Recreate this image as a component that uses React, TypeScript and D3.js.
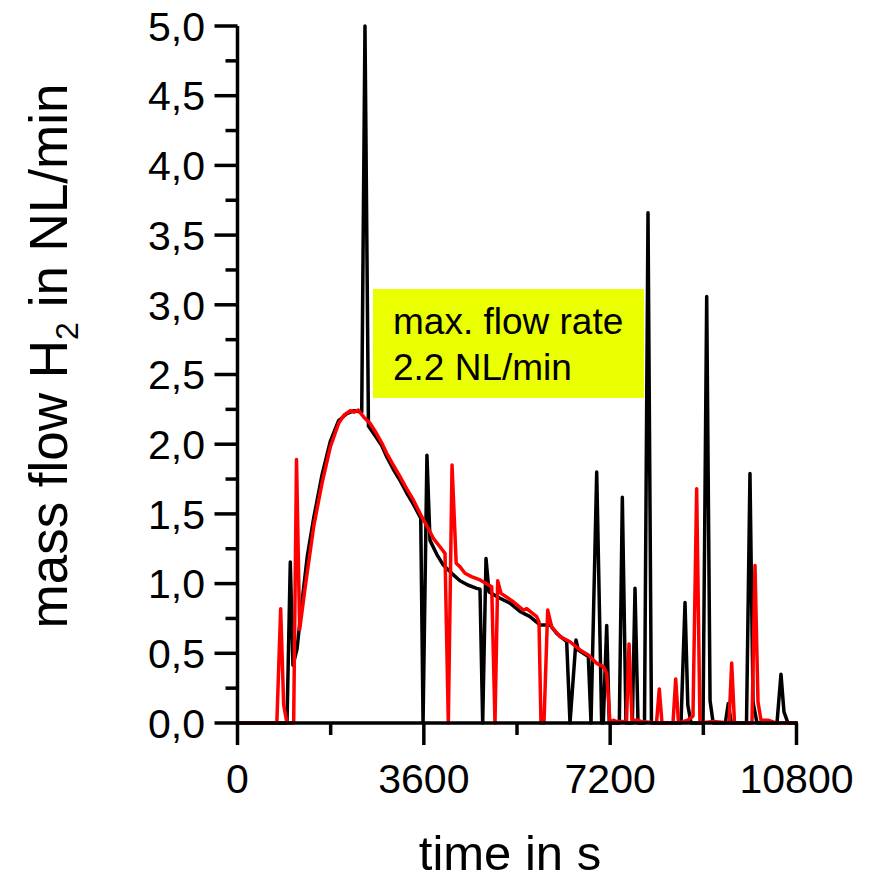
import React from "react";
import * as d3 from "d3";

// ---- data (time in s, mass flow H2 in NL/min) ----
const blackTime = [0, 956, 1020, 1072, 1150, 1250, 1350, 1472, 1633, 1793, 1955, 2116, 2250, 2400, 2463, 2530, 2660, 2786, 2882, 3010, 3140, 3270, 3397, 3540, 3585, 3660, 3719, 3850, 3976, 4150, 4298, 4450, 4621, 4685, 4737, 4801, 4859, 5071, 5265, 5458, 5651, 5844, 6037, 6167, 6360, 6424, 6540, 6584, 6778, 6830, 6940, 7036, 7067, 7133, 7183, 7377, 7435, 7506, 7628, 7680, 7738, 7863, 7931, 7998, 8569, 8646, 8700, 8762, 8994, 9065, 9130, 9190, 9425, 9482, 9540, 9834, 9901, 9960, 10037, 10423, 10500, 10558, 10635, 10800];
const blackFlow = [0, 0, 1.155, 0.415, 0.53, 0.88, 1.2, 1.47, 1.78, 2.02, 2.17, 2.22, 2.24, 2.23, 5.0, 2.13, 2.06, 1.99, 1.91, 1.82, 1.74, 1.65, 1.57, 1.47, 0, 1.92, 1.31, 1.21, 1.133, 1.07, 1.02, 0.99, 0.966, 0.96, 0, 1.18, 0.94, 0.895, 0.86, 0.8, 0.763, 0.703, 0.703, 0.643, 0.583, 0, 0.595, 0.524, 0.476, 0, 1.8, 0, 0, 0.7, 0, 0, 1.62, 0, 0, 0.966, 0, 0, 3.66, 0, 0, 0.864, 0.13, 0, 0, 3.06, 0.16, 0, 0, 0.14, 0, 0, 1.79, 0.15, 0, 0, 0.35, 0.08, 0, 0];

const redTime = [0, 760, 834, 892, 956, 1085, 1140, 1201, 1310, 1472, 1633, 1793, 1955, 2060, 2180, 2250, 2334, 2450, 2560, 2680, 2786, 2882, 3010, 3140, 3270, 3397, 3559, 3680, 3783, 3900, 4009, 4073, 4145, 4225, 4300, 4395, 4520, 4685, 4911, 4975, 5027, 5091, 5329, 5522, 5587, 5780, 5825, 5863, 5921, 5993, 6070, 6231, 6424, 6617, 6778, 6940, 7067, 7133, 7197, 7260, 7326, 7450, 7515, 7564, 7622, 7740, 7800, 8095, 8149, 8201, 8414, 8466, 8520, 8700, 8800, 8871, 8935, 9200, 9496, 9548, 9602, 9940, 9998, 10056, 10114, 10250, 10400, 10800];
const redFlow = [0, 0, 0.82, 0.13, 0, 0, 1.89, 0.67, 0.98, 1.41, 1.72, 1.98, 2.15, 2.21, 2.24, 2.23, 2.245, 2.19, 2.15, 2.08, 2.01, 1.935, 1.85, 1.767, 1.68, 1.6, 1.48, 1.4, 1.325, 1.27, 1.217, 0, 1.85, 1.146, 1.12, 1.074, 1.05, 1.026, 0.978, 0, 1.02, 0.93, 0.87, 0.81, 0.82, 0.763, 0.727, 0, 0, 0.81, 0.69, 0.62, 0.583, 0.524, 0.488, 0.428, 0.404, 0.357, 0, 0.02, 0.01, 0.01, 0, 0.567, 0.02, 0.02, 0.01, 0, 0.244, 0, 0, 0.316, 0, 0.02, 0.05, 1.68, 0, 0.01, 0, 0.43, 0, 0, 1.13, 0.15, 0.02, 0.02, 0, 0];

const xTicks = [0, 3600, 7200, 10800];
const xMinorTicks = [1800, 5400, 9000];
const yTicks = [0, 0.5, 1.0, 1.5, 2.0, 2.5, 3.0, 3.5, 4.0, 4.5, 5.0];
const yTickLabels = ["0,0", "0,5", "1,0", "1,5", "2,0", "2,5", "3,0", "3,5", "4,0", "4,5", "5,0"];
const yMinorTicks = [0.25, 0.75, 1.25, 1.75, 2.25, 2.75, 3.25, 3.75, 4.25, 4.75];
const annotationLines = ["max. flow rate", "2.2 NL/min"];

const W = 871;
const H = 881;
const FONT = "'Liberation Sans', Arial, Helvetica, sans-serif";

export default function App() {
  const x = d3.scaleLinear().domain([0, 10800]).range([237.5, 796.5]);
  const y = d3.scaleLinear().domain([0, 5]).range([723, 26]);

  const line = d3
    .line<[number, number]>()
    .x((d) => x(d[0]))
    .y((d) => y(d[1]));

  const blackPts: [number, number][] = blackTime.map((t, i) => [t, blackFlow[i]]);
  const redPts: [number, number][] = redTime.map((t, i) => [t, redFlow[i]]);

  const x0 = x(0);
  const y0 = y(0);

  return (
    <svg
      width={W}
      height={H}
      style={{ position: "absolute", left: 0, top: 0, background: "#fff" }}
      fontFamily={FONT}
    >
      <rect x={0} y={0} width={W} height={H} fill="#fff" />

      {/* annotation box */}
      <rect x={373} y={289} width={271} height={109} fill="#EAFF00" />
      {annotationLines.map((s, i) => (
        <text key={s} x={393} y={334 + i * 46} fontSize={37} fill="#000">
          {s}
        </text>
      ))}

      {/* data lines */}
      <path d={line(blackPts) || ""} fill="none" stroke="#000" strokeWidth={3.5} strokeLinejoin="round" />
      <path d={line(redPts) || ""} fill="none" stroke="#ff0000" strokeWidth={3.5} strokeLinejoin="round" />

      {/* y axis */}
      <line x1={x0} x2={x0} y1={y(5)} y2={y0 + 1.5} stroke="#000" strokeWidth={3.5} />
      {yTicks.map((v, i) => (
        <g key={"yt" + v}>
          <line x1={x0 - 23} x2={x0} y1={y(v)} y2={y(v)} stroke="#000" strokeWidth={3.5} />
          <text x={205} y={y(v)} dy="0.36em" textAnchor="end" fontSize={41} fill="#000">
            {yTickLabels[i]}
          </text>
        </g>
      ))}
      {yMinorTicks.map((v) => (
        <line key={"ym" + v} x1={x0 - 12} x2={x0} y1={y(v)} y2={y(v)} stroke="#000" strokeWidth={3.5} />
      ))}

      {/* x axis */}
      <line x1={x0 - 1.5} x2={x(10800) + 1.5} y1={y0} y2={y0} stroke="#000" strokeWidth={3.5} />
      {xTicks.map((t) => (
        <g key={"xt" + t}>
          <line x1={x(t)} x2={x(t)} y1={y0} y2={y0 + 22} stroke="#000" strokeWidth={3.5} />
          <text x={x(t)} y={793} textAnchor="middle" fontSize={41} fill="#000">
            {t}
          </text>
        </g>
      ))}
      {xMinorTicks.map((t) => (
        <line key={"xm" + t} x1={x(t)} x2={x(t)} y1={y0} y2={y0 + 12} stroke="#000" strokeWidth={3.5} />
      ))}

      {/* axis titles */}
      <text x={510} y={870} textAnchor="middle" fontSize={49} fill="#000">
        time in s
      </text>
      <text
        transform="translate(67,356) rotate(-90)"
        textAnchor="middle"
        fontSize={53}
        fill="#000"
      >
        mass flow H
        <tspan fontSize={32} dy={11}>2</tspan>
        <tspan dy={-11}> in NL/min</tspan>
      </text>
    </svg>
  );
}
